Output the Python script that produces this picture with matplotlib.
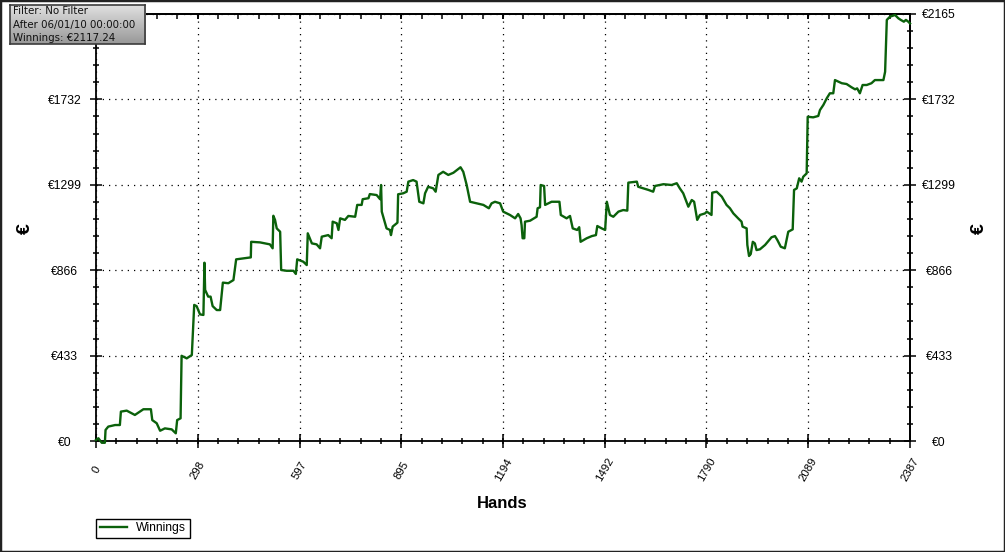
import numpy as np
import matplotlib
matplotlib.use('Agg')
import matplotlib.pyplot as plt
from matplotlib.ticker import MultipleLocator, FixedLocator
from matplotlib.patches import Rectangle

# cumulative winnings (hand number, euros)
hands = [0, 7, 17, 26, 28, 36, 56, 70, 73, 90, 114, 139, 161, 165, 178, 188, 202, 222, 234, 238,
         248, 251, 266, 281, 288, 295, 305, 315, 318, 320, 329, 336, 342, 354, 364, 372, 388, 403,
         411, 432, 454, 455, 481, 510, 518, 520, 525, 530, 540, 543, 559, 579, 586, 590, 608, 618,
         621, 633, 647, 657, 662, 681, 691, 694, 706, 711, 716, 730, 740, 760, 766, 779, 782, 799,
         803, 823, 833, 836, 838, 852, 862, 865, 870, 884, 886, 901, 911, 916, 930, 940, 948, 960,
         965, 974, 989, 996, 1004, 1018, 1033, 1048, 1069, 1077, 1087, 1097, 1116, 1136, 1152, 1160,
         1170, 1185, 1194, 1214, 1229, 1238, 1245, 1248, 1251, 1256, 1258, 1273, 1292, 1295, 1302,
         1304, 1314, 1317, 1336, 1359, 1363, 1380, 1390, 1398, 1411, 1417, 1421, 1439, 1454, 1466,
         1470, 1483, 1493, 1498, 1507, 1517, 1532, 1546, 1558, 1561, 1586, 1590, 1605, 1620, 1634,
         1639, 1664, 1688, 1703, 1712, 1722, 1737, 1747, 1754, 1763, 1771, 1786, 1791, 1805, 1807,
         1820, 1835, 1849, 1859, 1869, 1883, 1893, 1896, 1908, 1910, 1915, 1920, 1926, 1932, 1937,
         1947, 1962, 1981, 1991, 1998, 2008, 2020, 2025, 2030, 2043, 2047, 2055, 2062, 2069, 2074,
         2084, 2087, 2103, 2118, 2123, 2133, 2143, 2152, 2162, 2167, 2187, 2201, 2216, 2226, 2232,
         2240, 2248, 2260, 2274, 2284, 2309, 2314, 2319, 2328, 2343, 2353, 2360, 2369, 2375, 2382,
         2387]
winnings = [5, 14, -9, -9, 56, 73, 81, 81, 149, 154, 132, 161, 161, 106, 90, 52, 64, 59, 39, 106,
            115, 432, 419, 436, 690, 684, 642, 639, 904, 766, 732, 732, 684, 664, 664, 803, 800, 816,
            921, 926, 931, 1010, 1007, 997, 977, 1142, 1121, 1078, 1061, 867, 863, 863, 847, 921, 909,
            892, 1053, 1002, 997, 977, 1036, 1044, 1028, 1112, 1104, 1070, 1129, 1121, 1141, 1137,
            1197, 1197, 1226, 1231, 1252, 1247, 1226, 1298, 1163, 1078, 1070, 1044, 1087, 1107, 1251,
            1256, 1264, 1315, 1323, 1315, 1213, 1205, 1256, 1289, 1281, 1264, 1349, 1365, 1349, 1360,
            1388, 1365, 1298, 1213, 1205, 1197, 1180, 1205, 1213, 1205, 1163, 1146, 1129, 1151, 1129,
            1095, 1028, 1028, 1112, 1117, 1137, 1180, 1185, 1298, 1293, 1197, 1213, 1213, 1146, 1129,
            1141, 1078, 1070, 1084, 1010, 1028, 1039, 1044, 1090, 1078, 1070, 1213, 1146, 1137, 1163,
            1171, 1168, 1310, 1315, 1289, 1281, 1273, 1264, 1293, 1302, 1298, 1307, 1281, 1256, 1188,
            1222, 1213, 1121, 1146, 1154, 1163, 1146, 1259, 1264, 1239, 1197, 1180, 1154, 1129, 1112,
            1087, 1078, 994, 938, 948, 1010, 1002, 968, 972, 994, 1033, 1039, 1019, 985, 977, 1019,
            1061, 1073, 1273, 1281, 1332, 1315, 1340, 1357, 1644, 1641, 1648, 1678, 1704, 1738, 1763,
            1763, 1830, 1814, 1810, 1793, 1783, 1788, 1763, 1805, 1805, 1814, 1830, 1830, 1872, 2135,
            2151, 2160, 2143, 2135, 2126, 2135, 2126, 2117]

x_ticks = [0, 298, 597, 895, 1194, 1492, 1790, 2089, 2387]
y_ticks = [0, 433, 866, 1299, 1732, 2165]
y_labels = ['€' + str(v) for v in y_ticks]
info_lines = ['Filter: No Filter', 'After 06/01/10 00:00:00', 'Winnings: €2117.24']

plt.rcParams['font.family'] = ['Liberation Sans', 'DejaVu Sans']

W, H = 1005, 552
fig = plt.figure(figsize=(W / 100, H / 100), dpi=100)
fig.patch.set_facecolor('white')
ax = fig.add_axes([96 / W, 1 - 441 / H, 814 / W, 427 / H])

line, = ax.plot(hands, winnings, color='#0b610b', lw=1.7, label='Winnings', clip_on=False, zorder=3)

ax.set_xlim(0, 2387)
ax.set_ylim(0, 2165)

ax.xaxis.set_major_locator(FixedLocator(x_ticks))
ax.xaxis.set_minor_locator(MultipleLocator(2387 / 40))
ax.set_xticklabels([str(t) for t in x_ticks], rotation=60, ha='center', va='center', fontsize=8.2)
ax.yaxis.set_major_locator(FixedLocator(y_ticks))
ax.yaxis.set_minor_locator(MultipleLocator(2165 / 25))
# top-left label sits under the info box, so leave it blank
ax.set_yticklabels(y_labels[:-1] + [''], ha='center', fontsize=8.7)

ax.tick_params(axis='x', which='major', direction='inout', length=10.5, width=1.1, pad=15.5)
ax.tick_params(axis='x', which='minor', direction='inout', length=4.5, width=1.1)
ax.tick_params(axis='y', which='major', direction='inout', length=9, width=1.1, pad=18)
ax.tick_params(axis='y', which='minor', direction='inout', length=4.5, width=1.1)

# right side axis with its own labels
ry = ax.secondary_yaxis('right')
ry.yaxis.set_major_locator(FixedLocator(y_ticks))
ry.yaxis.set_minor_locator(MultipleLocator(2165 / 25))
ry.set_yticklabels(y_labels, ha='center', fontsize=8.7)
ry.tick_params(which='major', direction='inout', length=9, width=1.1, pad=16.5)
ry.tick_params(which='minor', direction='inout', length=4.5, width=1.1)
ry.spines['right'].set_linewidth(1.3)

# top axis, ticks only
tx = ax.secondary_xaxis('top')
tx.xaxis.set_major_locator(FixedLocator(x_ticks))
tx.xaxis.set_minor_locator(MultipleLocator(2387 / 40))
tx.tick_params(which='both', direction='in', length=3.5, width=1.1, labeltop=False)
tx.spines['top'].set_linewidth(1.3)

for s in ax.spines.values():
    s.set_linewidth(1.3)

ax.grid(True, which='major', color='black', linestyle=(0, (1, 4)), linewidth=0.9)

fig.text(502 / W, 1 - 503 / H, 'Hands', ha='center', va='center', fontsize=12, fontweight='bold')
fig.text(25 / W, 1 - 229 / H, '€', ha='center', va='center', rotation=90, fontsize=14, fontweight='bold')
fig.text(979 / W, 1 - 229 / H, '€', ha='center', va='center', rotation=90, fontsize=14, fontweight='bold')

leg = ax.legend(handles=[line], loc='lower left', bbox_to_anchor=(96 / W, 14 / H),
                bbox_transform=fig.transFigure, fancybox=False, framealpha=1, edgecolor='black',
                fontsize=8.7, handlelength=2.3, handletextpad=0.7, borderpad=0.3, borderaxespad=0)
leg.get_frame().set_linewidth(1)

# info box with grey gradient
bx = fig.add_axes([10 / W, 1 - 44 / H, 135 / W, 39 / H])
grad = np.linspace(0, 1, 64).reshape(-1, 1)
bx.imshow(grad, aspect='auto', cmap=matplotlib.colors.LinearSegmentedColormap.from_list('g', ['#e0e0e0', '#989898']),
          extent=[0, 1, 0, 1], origin='upper')
bx.set_xticks([])
bx.set_yticks([])
for s in bx.spines.values():
    s.set_color('#3c3c3c')
    s.set_linewidth(1.2)
for i, t in enumerate(info_lines):
    bx.text(0.02, 0.84 - i * 0.345, t, transform=bx.transAxes, ha='left', va='center',
            fontsize=7.4, family='DejaVu Sans', color='#111111')

fig.patches.append(Rectangle((0, 0), 1, 1, transform=fig.transFigure, fill=False,
                             edgecolor='#222222', linewidth=2.5))

fig.savefig('out.png', dpi=100)
